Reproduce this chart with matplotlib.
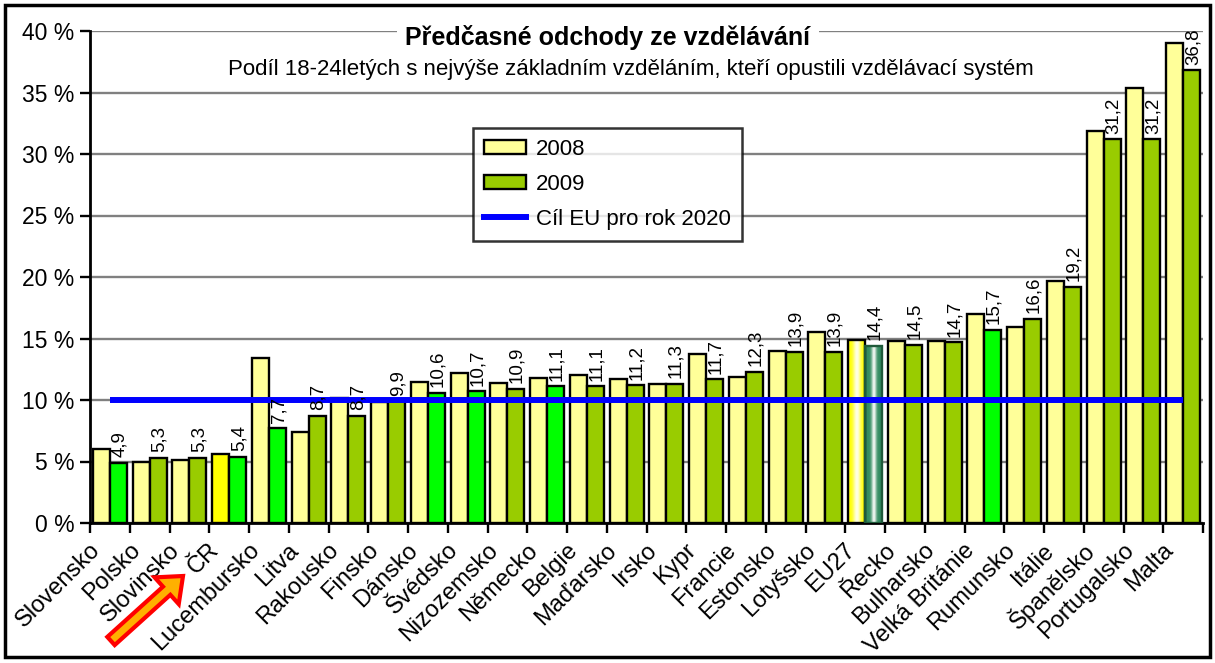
import numpy as np
import matplotlib
matplotlib.use("Agg")
import matplotlib.pyplot as plt
from matplotlib.patches import Rectangle, FancyArrow, Patch
from matplotlib.lines import Line2D
from matplotlib.transforms import ScaledTranslation, IdentityTransform, blended_transform_factory

plt.rcParams['font.family'] = ['Liberation Sans', 'DejaVu Sans']

countries = ["Slovensko", "Polsko", "Slovinsko", "ČR", "Lucembursko", "Litva",
             "Rakousko", "Finsko", "Dánsko", "Švédsko", "Nizozemsko", "Německo",
             "Belgie", "Maďarsko", "Irsko", "Kypr", "Francie", "Estonsko",
             "Lotyšsko", "EU27", "Řecko", "Bulharsko", "Velká Británie",
             "Rumunsko", "Itálie", "Španělsko", "Portugalsko", "Malta"]
v2008 = [6.0, 5.0, 5.1, 5.6, 13.4, 7.4, 10.2, 9.8, 11.5, 12.2, 11.4, 11.8,
         12.0, 11.7, 11.3, 13.7, 11.9, 14.0, 15.5, 14.9, 14.8, 14.8, 17.0,
         15.9, 19.7, 31.9, 35.4, 39.0]
v2009 = [4.9, 5.3, 5.3, 5.4, 7.7, 8.7, 8.7, 9.9, 10.6, 10.7, 10.9, 11.1,
         11.1, 11.2, 11.3, 11.7, 12.3, 13.9, 13.9, 14.4, 14.5, 14.7, 15.7,
         16.6, 19.2, 31.2, 31.2, 36.8]
highlight_2009 = ["Slovensko", "ČR", "Lucembursko", "Dánsko", "Švédsko", "Německo", "Velká Británie"]
target_2020 = 10.0
yticks = [0, 5, 10, 15, 20, 25, 30, 35, 40]

W, H = 1215, 663
fig = plt.figure(figsize=(W / 100, H / 100), dpi=100)
ax = fig.add_axes([90 / W, 1 - 523 / H, (1203 - 90) / W, (523 - 31) / H])

x = np.arange(len(countries))
bw = 0.43
c2008 = ["#FFFF00" if c == "ČR" else "#FFFF99" for c in countries]
c2009 = ["#00FF00" if c in highlight_2009 else "#99CC00" for c in countries]

bars08 = ax.bar(x - bw / 2, v2008, width=bw, color=c2008, edgecolor="black", linewidth=1.7, zorder=3)
bars09 = ax.bar(x + bw / 2, v2009, width=bw, color=c2009, edgecolor="black", linewidth=1.7, zorder=3)

ie = countries.index("EU27")
def grad_fill(bar, edge_rgb, center_rgb, spread):
    bx, by = bar.get_x(), bar.get_y()
    bwid, bh = bar.get_width(), bar.get_height()
    t = np.linspace(0, 1, 64)
    f = np.exp(-((t - 0.5) / spread) ** 2)
    img = np.zeros((1, 64, 3))
    for k in range(3):
        img[0, :, k] = edge_rgb[k] + (center_rgb[k] - edge_rgb[k]) * f
    bar.set_facecolor("none")
    im = ax.imshow(img, extent=[bx, bx + bwid, by, by + bh], aspect="auto", zorder=2.9,
                   interpolation="bilinear")
    im.set_clip_path(bar)

grad_fill(bars08[ie], (1.0, 1.0, 0.0), (1.0, 1.0, 0.9), 0.22)
grad_fill(bars09[ie], (0.2, 0.55, 0.38), (0.95, 0.97, 0.95), 0.14)
bars09[ie].set_edgecolor("#1f5a3a")

ax.plot([x[0], x[-1]], [target_2020, target_2020], color="#0000FF", linewidth=4.3, zorder=4,
        solid_capstyle="butt")

for xi, v in zip(x, v2009):
    ax.text(xi + bw / 2 + 0.03, v + 0.45, f"{v:.1f}".replace(".", ","), rotation=90,
            ha="center", va="bottom", fontsize=13.5, zorder=5, clip_on=False)

ax.set_xlim(-0.5, len(countries) - 0.5)
ax.set_ylim(0, 40)
ax.set_yticks(yticks)
ax.set_yticklabels([f"{t} %" for t in yticks], fontsize=16.5)
ax.yaxis.grid(True, color="#808080", linewidth=1.7, zorder=0)
ax.set_axisbelow(True)
ax.set_xticks(np.arange(-0.5, len(countries), 1))
ax.set_xticklabels([])
ax.tick_params(axis="x", length=7, width=1.7, direction="out")
ax.tick_params(axis="y", length=7, width=1.7, direction="out", pad=4)

lab_tr = blended_transform_factory(ax.transData, ax.transAxes) + \
    ScaledTranslation(-13 / 100, -24 / 100, fig.dpi_scale_trans)
for xi, name in zip(x, countries):
    ax.text(xi, 0, name, transform=lab_tr, rotation=45, ha="right", va="center",
            rotation_mode="anchor", fontsize=17, clip_on=False)

for s in ["top", "right"]:
    ax.spines[s].set_visible(False)
for s in ["left", "bottom"]:
    ax.spines[s].set_linewidth(2)
ax.patch.set_alpha(0)

fig.text(608 / W, 1 - 38 / H, "Předčasné odchody ze vzdělávání", ha="center", va="center",
         fontsize=18, fontweight="bold", zorder=10,
         bbox=dict(facecolor="white", edgecolor="none", pad=6))
fig.text(631 / W, 1 - 70 / H,
         "Podíl 18-24letých s nejvýše základním vzděláním, kteří opustili vzdělávací systém",
         ha="center", va="center", fontsize=16, zorder=10)

handles = [Patch(facecolor="#FFFF99", edgecolor="black", linewidth=1.7, label="2008"),
           Patch(facecolor="#99CC00", edgecolor="black", linewidth=1.7, label="2009"),
           Line2D([0], [0], color="#0000FF", linewidth=4.3, label="Cíl EU pro rok 2020")]
leg = fig.legend(handles=handles, loc="upper left", bbox_to_anchor=(473 / W, 1 - 128 / H),
                 fontsize=16, frameon=True, fancybox=False, borderaxespad=0,
                 handlelength=1.9, handleheight=0.6, labelspacing=0.62, handletextpad=0.45,
                 borderpad=0.5)
leg.get_frame().set_edgecolor("black")
leg.get_frame().set_linewidth(1.8)
leg.set_zorder(20)

fig.patches.append(Rectangle((5 / W, 1 - 657 / H), (1210 - 5) / W, (657 - 5) / H,
                             transform=fig.transFigure, fill=False, edgecolor="black",
                             linewidth=2.5))
tail = (111, H - 641)
tip = (183, H - 576)
arr = FancyArrow(tail[0], tail[1], tip[0] - tail[0], tip[1] - tail[1],
                 width=11, head_width=36, head_length=22,
                 length_includes_head=True, transform=IdentityTransform(),
                 facecolor="#FFB000", edgecolor="#FF0000", linewidth=3, zorder=30)
fig.patches.append(arr)

fig.savefig("out.png", dpi=100)
